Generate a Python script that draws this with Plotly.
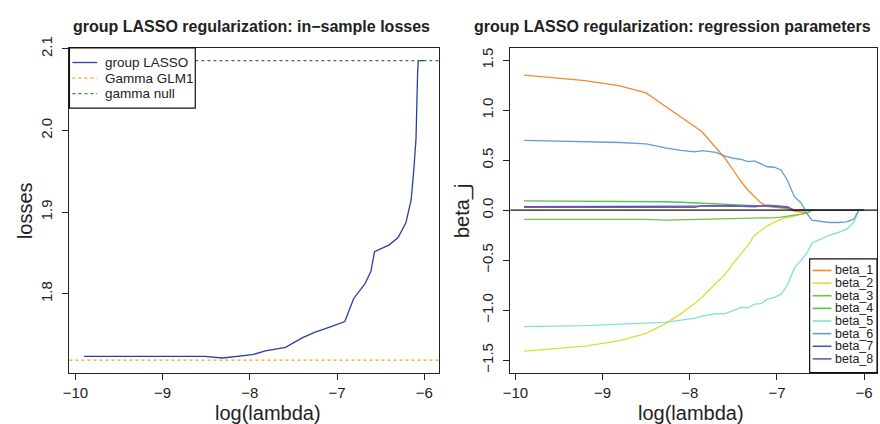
import plotly.graph_objects as go

W, H = 880, 424
FONT = "Liberation Sans, Arial, Helvetica, sans-serif"

# ---------------- data: left panel (in-sample losses) ----------------
log_lambda_loss = [-9.90, -8.52, -8.31, -7.97, -7.82, -7.59, -7.40, -7.25, -7.06, -6.91,
                   -6.81, -6.68, -6.61, -6.57, -6.40, -6.30, -6.21, -6.15, -6.12, -6.094,
                   -6.076, -6.068, -6.00]
loss_group_lasso = [1.7234, 1.7234, 1.7214, 1.7254, 1.7300, 1.7345, 1.7460, 1.7530, 1.7600, 1.7660,
                    1.7940, 1.8120, 1.8280, 1.8516, 1.8600, 1.8690, 1.8870, 1.9150, 1.9510, 1.9900,
                    2.0700, 2.0857, 2.0857]
loss_gamma_glm1 = 1.7187
loss_gamma_null = 2.0857
loss_names = ["group LASSO", "Gamma GLM1", "gamma null"]
loss_colors = ["#2E3EA0", "#FFA500", "#2E8B2E"]
loss_dash = ["solid", "3px,3px", "3px,3px"]
loss_yticks = [1.8, 1.9, 2.0, 2.1]

# ---------------- data: right panel (regression parameters) ----------------
log_lambda = [-9.90, -9.20, -8.80, -8.50, -8.28, -8.10, -7.94, -7.86, -7.70, -7.60,
              -7.50, -7.41, -7.33, -7.26, -7.18, -7.11, -7.03, -6.95, -6.88, -6.80,
              -6.72, -6.65, -6.60, -6.50, -6.40, -6.30, -6.20, -6.12, -6.06, -6.00]
beta_1 = [1.352, 1.297, 1.245, 1.174, 1.040, 0.935, 0.835, 0.785, 0.630, 0.525,
          0.400, 0.285, 0.200, 0.135, 0.071, 0.039, 0.030, 0.025, 0.015, -0.010,
          -0.020, -0.025, 0.0, 0.0, 0.0, 0.0, 0.0, 0.0, 0.0, 0.0]
beta_2 = [-1.410, -1.360, -1.305, -1.232, -1.135, -1.035, -0.930, -0.870, -0.730, -0.649,
          -0.530, -0.430, -0.350, -0.253, -0.200, -0.156, -0.120, -0.090, -0.075, -0.058,
          -0.040, -0.026, 0.0, 0.0, 0.0, 0.0, 0.0, 0.0, 0.0, 0.0]
beta_3 = [-0.091, -0.090, -0.090, -0.091, -0.100, -0.097, -0.095, -0.092, -0.090, -0.088,
          -0.085, -0.086, -0.083, -0.082, -0.081, -0.080, -0.075, -0.068, -0.062, -0.050,
          -0.040, -0.026, 0.0, 0.0, 0.0, 0.0, 0.0, 0.0, 0.0, 0.0]
beta_4 = [0.094, 0.092, 0.090, 0.088, 0.085, 0.080, 0.074, 0.070, 0.064, 0.058,
          0.056, 0.054, 0.052, 0.050, 0.046, 0.042, 0.036, 0.030, 0.022, 0.0,
          0.0, 0.0, 0.0, 0.0, 0.0, 0.0, 0.0, 0.0, 0.0, 0.0]
beta_5 = [-1.165, -1.155, -1.140, -1.128, -1.122, -1.100, -1.080, -1.060, -1.035, -1.038,
          -1.000, -0.973, -0.976, -0.940, -0.934, -0.890, -0.872, -0.840, -0.750, -0.577,
          -0.500, -0.420, -0.330, -0.290, -0.250, -0.225, -0.190, -0.123, 0.0, 0.0]
beta_6 = [0.700, 0.688, 0.678, 0.665, 0.623, 0.600, 0.584, 0.597, 0.580, 0.545,
          0.520, 0.510, 0.486, 0.493, 0.460, 0.435, 0.430, 0.400, 0.300, 0.136,
          0.070, -0.040, -0.100, -0.115, -0.123, -0.123, -0.117, -0.090, 0.0, 0.0]
beta_7 = [0.035, 0.035, 0.036, 0.036, 0.037, 0.038, 0.040, 0.042, 0.044, 0.040,
          0.040, 0.042, 0.044, 0.045, 0.045, 0.043, 0.040, 0.036, 0.030, 0.0,
          0.0, 0.0, 0.0, 0.0, 0.0, 0.0, 0.0, 0.0, 0.0, 0.0]
beta_8 = [0.028, 0.028, 0.030, 0.034, 0.035, 0.032, 0.030, 0.045, 0.046, 0.040,
          0.045, 0.040, 0.036, 0.035, 0.042, 0.050, 0.045, 0.040, 0.035, 0.0,
          0.0, 0.0, 0.0, 0.0, 0.0, 0.0, 0.0, 0.0, 0.0, 0.0]
betas = [beta_1, beta_2, beta_3, beta_4, beta_5, beta_6, beta_7, beta_8]
beta_names = ["beta_1", "beta_2", "beta_3", "beta_4", "beta_5", "beta_6", "beta_7", "beta_8"]
beta_colors = ["#F28A2A", "#D6E03A", "#74C043", "#4CC451", "#82E3C6", "#5F9FD8", "#4B58B2", "#7E52B6"]
beta_yticks = [-1.5, -1.0, -0.5, 0.0, 0.5, 1.0, 1.5]
x_ticks = [-10, -9, -8, -7, -6]

titles = ["group LASSO regularization: in\u2212sample losses",
          "group LASSO regularization: regression parameters"]


def px(x):
    return x / W


def py(y):
    return 1 - y / H


def minus(v, fmt):
    return (fmt % v).replace("-", "\u2212")


fig = go.Figure()

# left panel traces
fig.add_trace(go.Scatter(x=log_lambda_loss, y=loss_group_lasso, mode="lines",
                         line=dict(color=loss_colors[0], width=1.3),
                         xaxis="x", yaxis="y", showlegend=False))
for val, col in [(loss_gamma_glm1, loss_colors[1]), (loss_gamma_null, loss_colors[2])]:
    fig.add_shape(type="line", xref="x domain", yref="y", x0=0, x1=1, y0=val, y1=val,
                  line=dict(color=col, width=1.3, dash="3px,3px"))

# right panel traces
fig.add_shape(type="line", xref="x2 domain", yref="y2", x0=0, x1=1, y0=0, y1=0,
              line=dict(color="#111", width=1.2))
for b, name, col in zip(betas, beta_names, beta_colors):
    fig.add_trace(go.Scatter(x=log_lambda, y=b, mode="lines", name=name,
                             line=dict(color=col, width=1.3),
                             xaxis="x2", yaxis="y2", showlegend=False))

axis_common = dict(showline=True, linecolor="#222", linewidth=1.2, mirror=True,
                   ticks="outside", ticklen=6, tickwidth=1.1, tickcolor="#222",
                   showgrid=False, zeroline=False,
                   tickfont=dict(family=FONT, size=15, color="#222"))

fig.update_layout(
    width=W, height=H, margin=dict(l=0, r=0, t=0, b=0),
    paper_bgcolor="white", plot_bgcolor="white", showlegend=False,
    xaxis=dict(domain=[px(62), px(435)], range=[-10.068, -5.83], anchor="y",
               tickvals=x_ticks, ticktext=[minus(v, "%d") for v in x_ticks],
               ticklabelstandoff=0, **axis_common),
    yaxis=dict(domain=[py(371), py(37)], range=[1.7036, 2.1012], anchor="x",
               tickvals=loss_yticks, ticktext=["%.1f" % v for v in loss_yticks],
               tickangle=-90, ticklabelstandoff=4, **axis_common),
    xaxis2=dict(domain=[px(507), px(877)], range=[-10.057, -5.852], anchor="y2",
                tickvals=x_ticks, ticktext=[minus(v, "%d") for v in x_ticks],
                ticklabelstandoff=0, **axis_common),
    yaxis2=dict(domain=[py(371), py(37)], range=[-1.624, 1.624], anchor="x2",
                tickvals=beta_yticks, ticktext=[minus(v, "%.1f") for v in beta_yticks],
                tickangle=-90, ticklabelstandoff=4, **axis_common),
)

ann = []
# titles
for t, cx in zip(titles, [246, 671]):
    ann.append(dict(text="<b>%s</b>" % t, x=px(cx), y=py(15), xref="paper", yref="paper",
                    showarrow=False, xanchor="center", yanchor="middle",
                    font=dict(family=FONT, size=16, color="#222")))
# axis titles
for t, cx in zip(["log(lambda)", "log(lambda)"], [262, 689]):
    ann.append(dict(text=t, x=px(cx), y=py(413), xref="paper", yref="paper",
                    showarrow=False, xanchor="center", yanchor="middle", borderpad=0,
                    font=dict(family=FONT, size=20, color="#222")))
for t, cx in zip(["losses", "beta_j"], [17, 458]):
    ann.append(dict(text=t, x=px(cx), y=py(204), xref="paper", yref="paper",
                    showarrow=False, xanchor="center", yanchor="middle", textangle=-90,
                    borderpad=0, font=dict(family=FONT, size=20, color="#222")))

# left legend (manual, R style)
L_x0, L_x1, L_top, L_step = 62, 189, 37, 16.0
L_first = L_top + 15
L_bot = L_first + L_step * (len(loss_names) - 1) + 15
fig.add_shape(type="rect", xref="paper", yref="paper", x0=px(L_x0), x1=px(L_x1),
              y0=py(L_bot), y1=py(L_top), line=dict(color="#111", width=1.2), fillcolor="white")
for i, (name, col, dsh) in enumerate(zip(loss_names, loss_colors, loss_dash)):
    yy = L_first + i * L_step
    fig.add_shape(type="line", xref="paper", yref="paper", x0=px(65), x1=px(90),
                  y0=py(yy), y1=py(yy), line=dict(color=col, width=1.3, dash=dsh))
    ann.append(dict(text=name, x=px(97), y=py(yy), xref="paper", yref="paper",
                    showarrow=False, xanchor="left", yanchor="middle", borderpad=0,
                    font=dict(family=FONT, size=13.5, color="#222")))

# right legend
R_x0, R_x1, R_top, R_step = 809, 877, 254, 13.0
R_bot = 371
fig.add_shape(type="rect", xref="paper", yref="paper", x0=px(R_x0), x1=px(R_x1),
              y0=py(R_bot), y1=py(R_top), line=dict(color="#111", width=1.2), fillcolor="white")
for i, (name, col) in enumerate(zip(beta_names, beta_colors)):
    yy = R_top + 12 + i * R_step
    fig.add_shape(type="line", xref="paper", yref="paper", x0=px(812), x1=px(831),
                  y0=py(yy), y1=py(yy), line=dict(color=col, width=1.6))
    ann.append(dict(text=name, x=px(834), y=py(yy), xref="paper", yref="paper",
                    showarrow=False, xanchor="left", yanchor="middle", borderpad=0,
                    font=dict(family=FONT, size=12.5, color="#222")))

fig.update_layout(annotations=ann)
fig.write_html("out.html")
